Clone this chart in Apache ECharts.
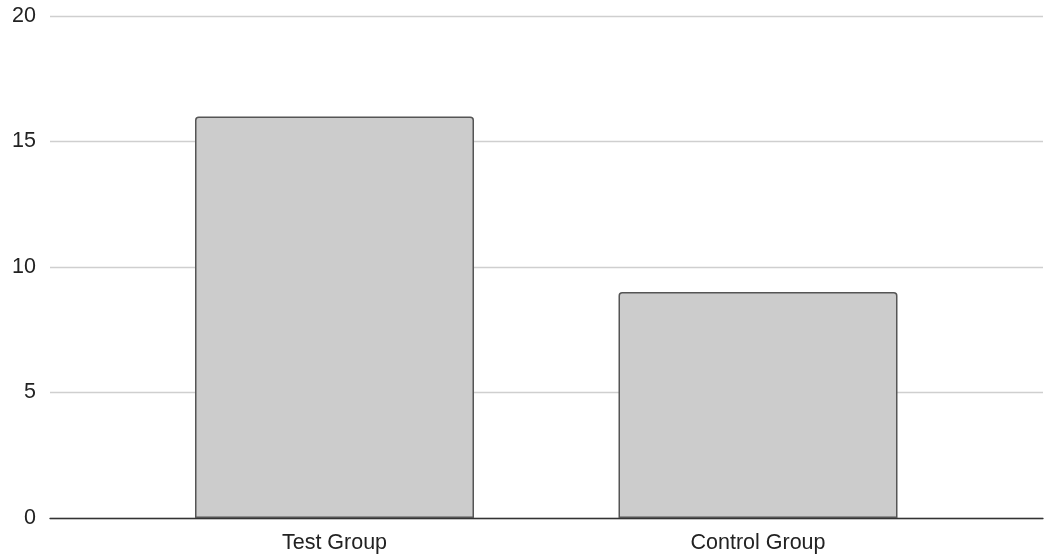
<!DOCTYPE html>
<html>
<head>
<meta charset="utf-8">
<script src="https://cdn.jsdelivr.net/npm/echarts@6/dist/echarts.min.js"></script>
<style>html,body{margin:0;padding:0;background:#fff}#c{width:1046px;height:556px}</style>
</head>
<body>
<div id="c"></div>
<script>
const categories = ['Test Group', 'Control Group'];
const values = [16, 9];
const yMin = 0, yMax = 20, yStep = 5;

const chart = echarts.init(document.getElementById('c'), null, {renderer: 'canvas'});
const font = 'Liberation Sans, Arial, sans-serif';
chart.setOption({
  animation: false,
  grid: [
    {left: 122.75, right: 76.25, top: 16, bottom: 38},
    {left: 50, right: 3, top: 16, bottom: 38}
  ],
  xAxis: [
    {gridIndex: 0, type: 'category', data: categories,
     axisLine: {show: false}, axisTick: {show: false},
     axisLabel: {color: '#222', fontSize: 21.5, fontFamily: font, margin: 14}},
    {gridIndex: 1, type: 'value', min: 0, max: 1, show: true,
     axisLine: {show: true, onZero: false, lineStyle: {color: '#333', width: 1.3}},
     axisTick: {show: false}, axisLabel: {show: false}, splitLine: {show: false}}
  ],
  yAxis: [
    {gridIndex: 0, type: 'value', min: yMin, max: yMax, interval: yStep, show: false,
     splitLine: {show: false}},
    {gridIndex: 1, type: 'value', min: yMin, max: yMax, interval: yStep,
     axisLine: {show: false}, axisTick: {show: false},
     axisLabel: {color: '#222', fontSize: 21.5, fontFamily: font, margin: 14},
     splitLine: {lineStyle: {color: '#cfcfcf', width: 1.3}}}
  ],
  series: [{
    type: 'bar', xAxisIndex: 0, yAxisIndex: 0, data: values, barWidth: 279,
    z: 3,
    itemStyle: {color: '#cccccc', borderColor: '#555555', borderWidth: 1.5, borderRadius: [3, 3, 0, 0]}
  }]
});
</script>
</body>
</html>
